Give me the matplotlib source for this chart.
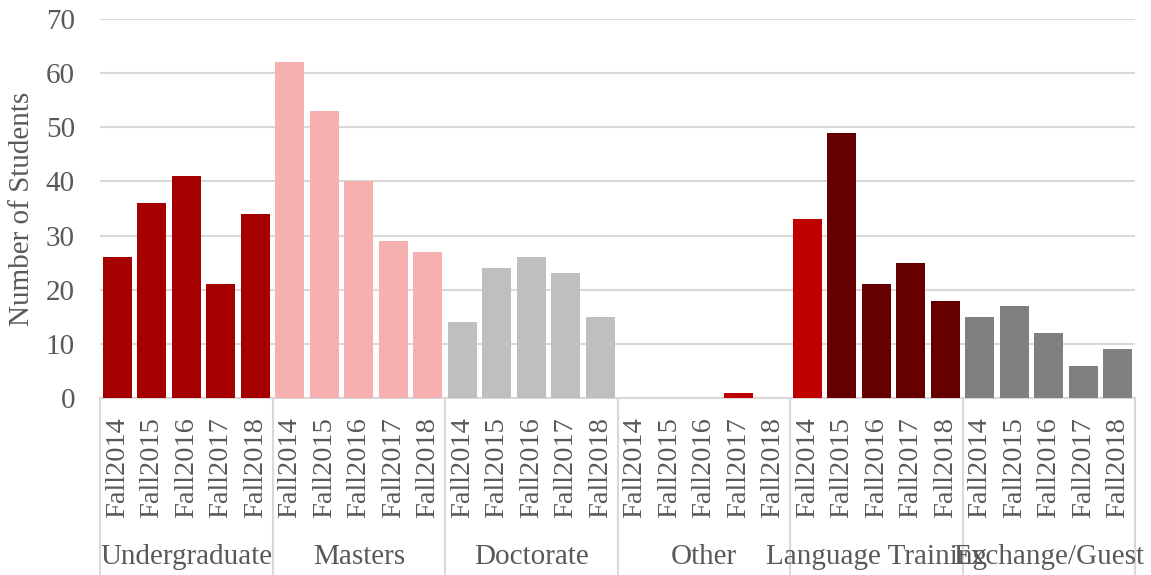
import matplotlib.pyplot as plt
import matplotlib.transforms as mtransforms

plt.rcParams['font.family'] = ['Liberation Serif', 'DejaVu Serif']

groups = ['Undergraduate', 'Masters', 'Doctorate', 'Other', 'Language Training', 'Exchange/Guest']
years = ['Fall2014', 'Fall2015', 'Fall2016', 'Fall2017', 'Fall2018']

undergraduate = [26, 36, 41, 21, 34]
masters = [62, 53, 40, 29, 27]
doctorate = [14, 24, 26, 23, 15]
other = [0, 0, 0, 1, 0]
language_training = [33, 49, 21, 25, 18]
exchange_guest = [15, 17, 12, 6, 9]

# colours per bar, Excel style
bar_colors = (['#A50000'] * 5 + ['#F7B0B0'] * 5 + ['#BFBFBF'] * 5 +
              ['#C00000'] * 5 + ['#C00000'] + ['#660000'] * 4 + ['#808080'] * 5)

values = undergraduate + masters + doctorate + other + language_training + exchange_guest
xs = list(range(len(values)))

text_color = '#595959'
grid_color = '#D9D9D9'

fig = plt.figure(figsize=(11.51, 5.75), dpi=100)
ax = fig.add_axes([100 / 1151, 177 / 575, 1035 / 1151, 379 / 575])

ax.bar(xs, values, width=0.84, color=bar_colors, zorder=3)

ax.set_xlim(-0.5, len(values) - 0.5)
ax.set_ylim(0, 70)
ax.set_yticks(range(0, 71, 10))
ax.yaxis.grid(True, color=grid_color, linewidth=1.5, zorder=0)
ax.tick_params(axis='y', length=0, pad=18, labelsize=21, labelcolor=text_color)
ax.set_xticks([])
for s in ['top', 'right', 'left']:
    ax.spines[s].set_visible(False)
ax.spines['bottom'].set_color(grid_color)
ax.spines['bottom'].set_linewidth(1.5)

fig.text(22 / 1151, 1 - 209 / 575, 'Number of Students', rotation=90, ha='center', va='center',
         fontsize=21, color=text_color)

trans = mtransforms.blended_transform_factory(ax.transData, ax.transAxes)

# year labels
for i, x in enumerate(xs):
    ax.text(x, -19 / 379, years[i % 5], rotation=90, ha='center', va='top',
            fontsize=20.5, color=text_color, transform=trans)

# group separators
for g in range(len(groups) + 1):
    ax.plot([g * 5 - 0.5, g * 5 - 0.5], [0, -0.47], color=grid_color, linewidth=1.5,
            transform=trans, clip_on=False)

# group labels
for g, name in enumerate(groups):
    ax.text(g * 5 + 2, -159 / 379, name, ha='center', va='center',
            fontsize=21, color=text_color, transform=trans)

fig.savefig('out.png', dpi=100)
